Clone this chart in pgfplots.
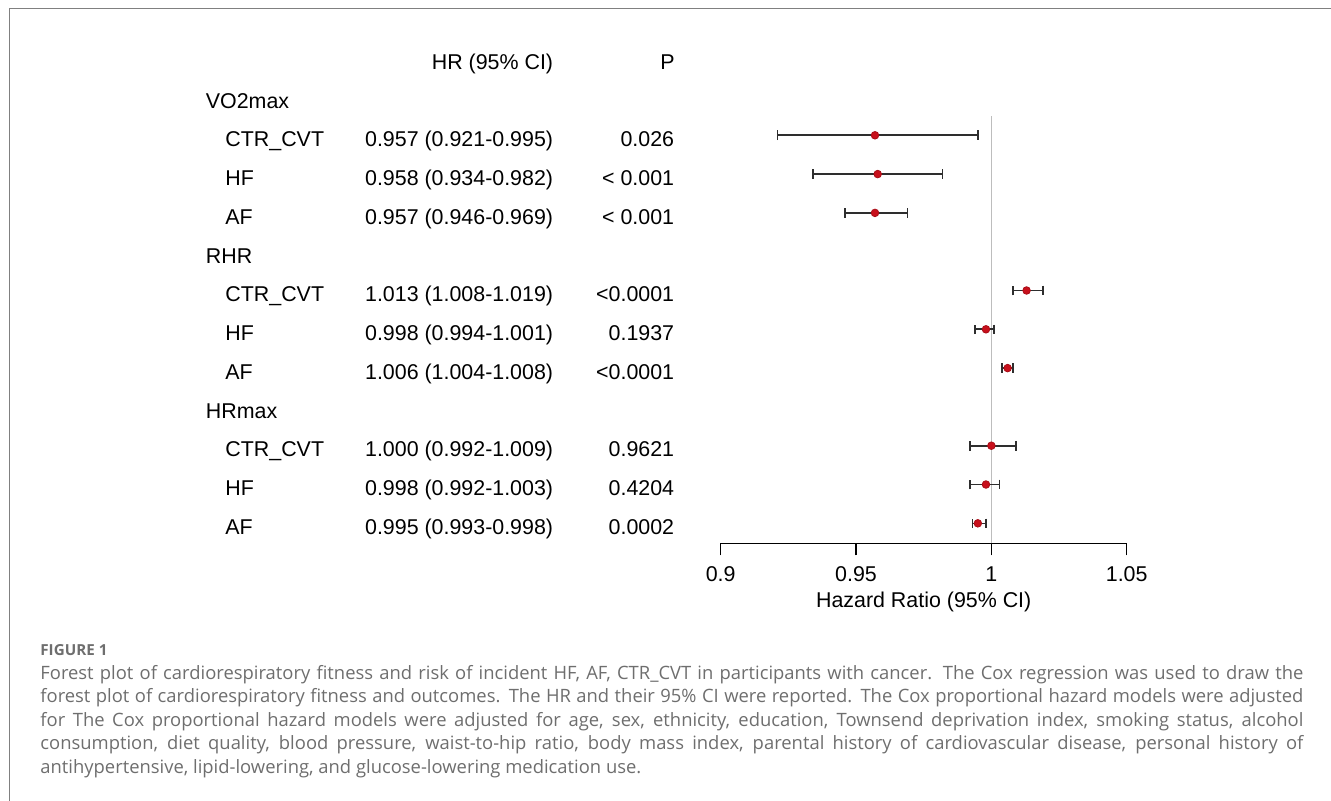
\documentclass[border=0pt]{standalone}
\usepackage{pgfplots}
\pgfplotsset{compat=1.18}
\usepackage{pgfplotstable}
\usepackage{fontspec}
\setmainfont{Liberation Sans}
\newfontfamily\capfont{Open Sans}
\definecolor{capgray}{HTML}{6E6E6E}
\definecolor{dotred}{HTML}{C8101C}
\definecolor{refgray}{HTML}{BDBDBD}
\definecolor{framegray}{HTML}{808080}
\definecolor{barcol}{HTML}{2E2E2E}

\pgfplotstableread{
hr lo hi row
0.957 0.921 0.995 1
0.958 0.934 0.982 2
0.957 0.946 0.969 3
1.013 1.008 1.019 5
0.998 0.994 1.001 6
1.006 1.004 1.008 7
1.000 0.992 1.009 9
0.998 0.992 1.003 10
0.995 0.993 0.998 11
}\hrdata

\newcommand{\tf}{\fontsize{10.7}{12}\selectfont}

\begin{document}
\begin{tikzpicture}
\path[use as bounding box] (0,0) rectangle (665.5pt,-400.5pt);
\begin{axis}[
  at={(360.35pt,-271.65pt)}, anchor=south west,
  scale only axis, width=203pt, height=213.65pt,
  xmin=0.9, xmax=1.05, ymin=-11.515, ymax=-0.503,
  axis x line*=bottom, axis y line=none,
  xtick={0.9,0.95,1,1.05}, xticklabels={0.9,0.95,1,1.05},
  tick align=outside, major tick length=6pt,
  tick style={black, line width=0.65pt},
  axis line style={black, line width=0.65pt},
  xticklabel style={font=\tf, inner sep=0pt, anchor=north, yshift=-5.5pt},
  xlabel={Hazard Ratio (95\% CI)},
  xlabel style={font=\tf, inner sep=0pt, yshift=-5pt},
  clip=false,
]
\addplot[refgray, line width=0.55pt, forget plot] coordinates {(1,-11.515) (1,-0.503)};
\addplot[only marks, mark=*, mark size=1.9pt,
  mark options={fill=dotred, draw=dotred!85!black},
  error bars/.cd, x dir=both, x explicit,
  error mark=|,
  error bar style={line width=0.8pt, color=barcol},
  error mark options={mark size=2.4pt, line width=0.8pt, color=barcol}]
  table[x=hr, y expr=-\thisrow{row},
        x error plus expr=\thisrow{hi}-\thisrow{hr},
        x error minus expr=\thisrow{hr}-\thisrow{lo}] {\hrdata};
\end{axis}
\begin{scope}[x=0.5pt, y=-0.5pt, every node/.style={inner sep=0pt, font=\tf}]
\draw[framegray, line width=0.75pt] (9.3,801) -- (9.3,8.3) -- (1331,8.3);
\node[anchor=base east] at (553.5,69.4) {HR (95\% CI)};
\node[anchor=base east] at (675,69.4) {P};
% group labels
\node[anchor=base west] at (205.5,108.2) {VO2max};
\node[anchor=base west] at (205.5,263.2) {RHR};
\node[anchor=base west] at (205.5,418.2) {HRmax};
% sub labels
\foreach \y/\lab/\hrt/\p in {
 146.95/CTR\_CVT/0.957 (0.921-0.995)/0.026,
 185.7/HF/0.958 (0.934-0.982)/< 0.001,
 224.45/AF/0.957 (0.946-0.969)/< 0.001,
 301.95/CTR\_CVT/1.013 (1.008-1.019)/<0.0001,
 340.7/HF/0.998 (0.994-1.001)/0.1937,
 379.45/AF/1.006 (1.004-1.008)/<0.0001,
 456.95/CTR\_CVT/1.000 (0.992-1.009)/0.9621,
 495.7/HF/0.998 (0.992-1.003)/0.4204,
 534.45/AF/0.995 (0.993-0.998)/0.0002}{
  \node[anchor=base west] at (225,\y) {\lab};
  \node[anchor=base east] at (553.5,\y) {\hrt};
  \node[anchor=base east] at (674.5,\y) {\p};
}
% caption
\node[anchor=base west, text=capgray, font=\capfont\bfseries\fontsize{7.6}{9}\selectfont] at (40,655.7) {FIGURE 1};
\begin{scope}[every node/.style={inner sep=0pt, anchor=base west, text=capgray, font=\capfont\fontsize{9.2}{11}\selectfont}]
\node at (40,679.5) {\makebox[631.5pt][s]{Forest plot of cardiorespiratory fitness and risk of incident HF, AF, CTR\_CVT in participants with cancer. The Cox regression was used to draw the}};
\node at (40,702.9) {\makebox[631.5pt][s]{forest plot of cardiorespiratory fitness and outcomes. The HR and their 95\% CI were reported. The Cox proportional hazard models were adjusted}};
\node at (40,726.3) {\makebox[631.5pt][s]{for The Cox proportional hazard models were adjusted for age, sex, ethnicity, education, Townsend deprivation index, smoking status, alcohol}};
\node at (40,749.7) {\makebox[631.5pt][s]{consumption, diet quality, blood pressure, waist-to-hip ratio, body mass index, parental history of cardiovascular disease, personal history of}};
\node at (40,773.1) {antihypertensive, lipid-lowering, and glucose-lowering medication use.};
\end{scope}
\end{scope}
\end{tikzpicture}
\end{document}
